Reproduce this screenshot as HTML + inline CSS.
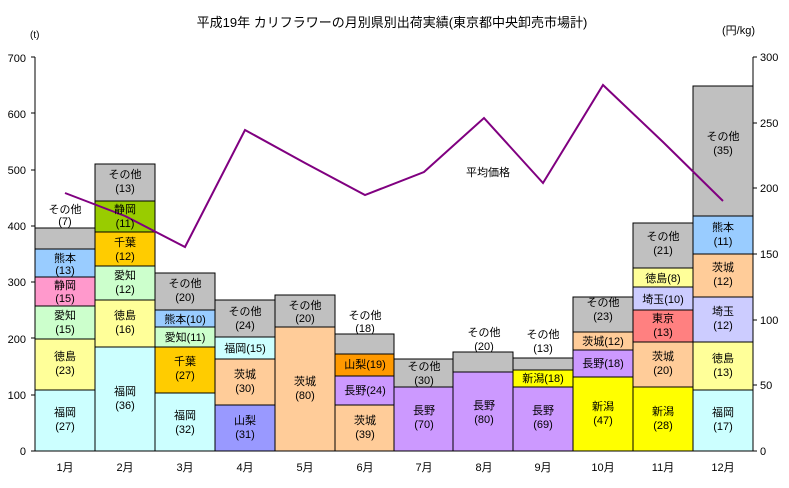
<!DOCTYPE html>
<html><head><meta charset="utf-8"><style>
body{margin:0;background:#fff}
svg{display:block;font-family:"Liberation Sans","Noto Sans CJK JP",sans-serif}
</style></head><body>
<svg width="789" height="488" xmlns="http://www.w3.org/2000/svg">
<rect width="789" height="488" fill="#fff"/>
<text x="392" y="27" font-size="13" text-anchor="middle">平成19年 カリフラワーの月別県別出荷実績(東京都中央卸売市場計)</text>
<text x="30" y="38" font-size="10">(t)</text>
<text x="722" y="34" font-size="11">(円/kg)</text>
<g font-size="11" text-anchor="end">
<text x="26" y="455">0</text><text x="26" y="399">100</text><text x="26" y="343">200</text><text x="26" y="286">300</text><text x="26" y="230">400</text><text x="26" y="174">500</text><text x="26" y="118">600</text><text x="26" y="62">700</text>
</g>
<g font-size="11">
<text x="760" y="455">0</text><text x="760" y="389">50</text><text x="760" y="324">100</text><text x="760" y="258">150</text><text x="760" y="192">200</text><text x="760" y="127">250</text><text x="760" y="61">300</text>
</g>
<g stroke="#000" stroke-width="1">
<line x1="35" y1="57" x2="35" y2="451"/><line x1="753" y1="57" x2="753" y2="451"/>
<line x1="35" y1="451" x2="753" y2="451"/>
<path d="M31 451H35M31 395H35M31 338H35M31 282H35M31 226H35M31 170H35M31 113H35M31 57H35"/>
<path d="M753 451H757M753 385H757M753 320H757M753 254H757M753 188H757M753 123H757M753 57H757"/>
</g>
<g stroke="#000" stroke-width="1">
<!-- 1 -->
<rect x="35" y="390" width="60" height="61" fill="#ccffff"/>
<rect x="35" y="339" width="60" height="51" fill="#ffff99"/>
<rect x="35" y="306" width="60" height="33" fill="#ccffcc"/>
<rect x="35" y="277" width="60" height="29" fill="#ff99cc"/>
<rect x="35" y="249" width="60" height="28" fill="#99ccff"/>
<rect x="35" y="228" width="60" height="21" fill="#c0c0c0"/>
<!-- 2 -->
<rect x="95" y="347" width="60" height="104" fill="#ccffff"/>
<rect x="95" y="300" width="60" height="47" fill="#ffff99"/>
<rect x="95" y="266" width="60" height="34" fill="#ccffcc"/>
<rect x="95" y="232" width="60" height="34" fill="#ffcc00"/>
<rect x="95" y="201" width="60" height="31" fill="#99cc00"/>
<rect x="95" y="164" width="60" height="37" fill="#c0c0c0"/>
<!-- 3 -->
<rect x="155" y="393" width="60" height="58" fill="#ccffff"/>
<rect x="155" y="347" width="60" height="46" fill="#ffcc00"/>
<rect x="155" y="327" width="60" height="20" fill="#ccffcc"/>
<rect x="155" y="310" width="60" height="17" fill="#99ccff"/>
<rect x="155" y="273" width="60" height="37" fill="#c0c0c0"/>
<!-- 4 -->
<rect x="215" y="405" width="60" height="46" fill="#9999ff"/>
<rect x="215" y="359" width="60" height="46" fill="#ffcc99"/>
<rect x="215" y="337" width="60" height="22" fill="#ccffff"/>
<rect x="215" y="300" width="60" height="37" fill="#c0c0c0"/>
<!-- 5 -->
<rect x="275" y="327" width="60" height="124" fill="#ffcc99"/>
<rect x="275" y="295" width="60" height="32" fill="#c0c0c0"/>
<!-- 6 -->
<rect x="335" y="405" width="59" height="46" fill="#ffcc99"/>
<rect x="335" y="376" width="59" height="29" fill="#cc99ff"/>
<rect x="335" y="354" width="59" height="22" fill="#ff9900"/>
<rect x="335" y="334" width="59" height="20" fill="#c0c0c0"/>
<!-- 7 -->
<rect x="394" y="387" width="59" height="64" fill="#cc99ff"/>
<rect x="394" y="359" width="59" height="28" fill="#c0c0c0"/>
<!-- 8 -->
<rect x="453" y="372" width="60" height="79" fill="#cc99ff"/>
<rect x="453" y="352" width="60" height="20" fill="#c0c0c0"/>
<!-- 9 -->
<rect x="513" y="387" width="60" height="64" fill="#cc99ff"/>
<rect x="513" y="370" width="60" height="17" fill="#ffff00"/>
<rect x="513" y="358" width="60" height="12" fill="#c0c0c0"/>
<!-- 10 -->
<rect x="573" y="377" width="60" height="74" fill="#ffff00"/>
<rect x="573" y="350" width="60" height="27" fill="#cc99ff"/>
<rect x="573" y="332" width="60" height="18" fill="#ffcc99"/>
<rect x="573" y="297" width="60" height="35" fill="#c0c0c0"/>
<!-- 11 -->
<rect x="633" y="387" width="60" height="64" fill="#ffff00"/>
<rect x="633" y="342" width="60" height="45" fill="#ffcc99"/>
<rect x="633" y="310" width="60" height="32" fill="#ff8080"/>
<rect x="633" y="287" width="60" height="23" fill="#ccccff"/>
<rect x="633" y="268" width="60" height="19" fill="#ffff99"/>
<rect x="633" y="223" width="60" height="45" fill="#c0c0c0"/>
<!-- 12 -->
<rect x="693" y="390" width="60" height="61" fill="#ccffff"/>
<rect x="693" y="342" width="60" height="48" fill="#ffff99"/>
<rect x="693" y="297" width="60" height="45" fill="#ccccff"/>
<rect x="693" y="254" width="60" height="43" fill="#ffcc99"/>
<rect x="693" y="216" width="60" height="38" fill="#99ccff"/>
<rect x="693" y="86" width="60" height="130" fill="#c0c0c0"/>
</g>
<polyline fill="none" stroke="#800080" stroke-width="2" points="65,193 125,216 185,247 245,130 305,163 365,195 424,172 484,118 543,183 603,85 663,142 723,201"/>
<text x="488" y="176" font-size="11" text-anchor="middle">平均価格</text>
<g font-size="11" text-anchor="middle">
<text x="65" y="213">その他</text><text x="65" y="225">(7)</text>
<text x="65" y="262">熊本</text><text x="65" y="274">(13)</text>
<text x="65" y="289">静岡</text><text x="65" y="302">(15)</text>
<text x="65" y="319">愛知</text><text x="65" y="333">(15)</text>
<text x="65" y="360">徳島</text><text x="65" y="374">(23)</text>
<text x="65" y="416">福岡</text><text x="65" y="430">(27)</text>

<text x="125" y="178">その他</text><text x="125" y="192">(13)</text>
<text x="125" y="213">静岡</text><text x="125" y="227">(11)</text>
<text x="125" y="246">千葉</text><text x="125" y="260">(12)</text>
<text x="125" y="279">愛知</text><text x="125" y="293">(12)</text>
<text x="125" y="319">徳島</text><text x="125" y="333">(16)</text>
<text x="125" y="395">福岡</text><text x="125" y="409">(36)</text>

<text x="185" y="287">その他</text><text x="185" y="301">(20)</text>
<text x="185" y="323">熊本(10)</text>
<text x="185" y="341">愛知(11)</text>
<text x="185" y="365">千葉</text><text x="185" y="379">(27)</text>
<text x="185" y="419">福岡</text><text x="185" y="433">(32)</text>

<text x="245" y="315">その他</text><text x="245" y="329">(24)</text>
<text x="245" y="352">福岡(15)</text>
<text x="245" y="378">茨城</text><text x="245" y="392">(30)</text>
<text x="245" y="424">山梨</text><text x="245" y="438">(31)</text>

<text x="305" y="309">その他</text><text x="305" y="322">(20)</text>
<text x="305" y="385">茨城</text><text x="305" y="399">(80)</text>

<text x="365" y="319">その他</text><text x="365" y="332">(18)</text>
<text x="365" y="368">山梨(19)</text>
<text x="365" y="394">長野(24)</text>
<text x="365" y="424">茨城</text><text x="365" y="438">(39)</text>

<text x="424" y="370">その他</text><text x="424" y="384">(30)</text>
<text x="424" y="414">長野</text><text x="424" y="428">(70)</text>

<text x="484" y="336">その他</text><text x="484" y="350">(20)</text>
<text x="484" y="409">長野</text><text x="484" y="423">(80)</text>

<text x="543" y="338">その他</text><text x="543" y="352">(13)</text>
<text x="543" y="382">新潟(18)</text>
<text x="543" y="414">長野</text><text x="543" y="428">(69)</text>

<text x="603" y="306">その他</text><text x="603" y="320">(23)</text>
<text x="603" y="345">茨城(12)</text>
<text x="603" y="367">長野(18)</text>
<text x="603" y="410">新潟</text><text x="603" y="424">(47)</text>

<text x="663" y="240">その他</text><text x="663" y="254">(21)</text>
<text x="663" y="282">徳島(8)</text>
<text x="663" y="303">埼玉(10)</text>
<text x="663" y="322">東京</text><text x="663" y="336">(13)</text>
<text x="663" y="360">茨城</text><text x="663" y="374">(20)</text>
<text x="663" y="415">新潟</text><text x="663" y="429">(28)</text>

<text x="723" y="140">その他</text><text x="723" y="154">(35)</text>
<text x="723" y="231">熊本</text><text x="723" y="245">(11)</text>
<text x="723" y="271">茨城</text><text x="723" y="285">(12)</text>
<text x="723" y="315">埼玉</text><text x="723" y="329">(12)</text>
<text x="723" y="362">徳島</text><text x="723" y="376">(13)</text>
<text x="723" y="416">福岡</text><text x="723" y="430">(17)</text>
</g>
<g font-size="11" text-anchor="middle">
<text x="65" y="471">1月</text><text x="125" y="471">2月</text><text x="185" y="471">3月</text><text x="245" y="471">4月</text><text x="305" y="471">5月</text><text x="365" y="471">6月</text><text x="424" y="471">7月</text><text x="484" y="471">8月</text><text x="543" y="471">9月</text><text x="603" y="471">10月</text><text x="663" y="471">11月</text><text x="723" y="471">12月</text>
</g>
</svg>
</body></html>
